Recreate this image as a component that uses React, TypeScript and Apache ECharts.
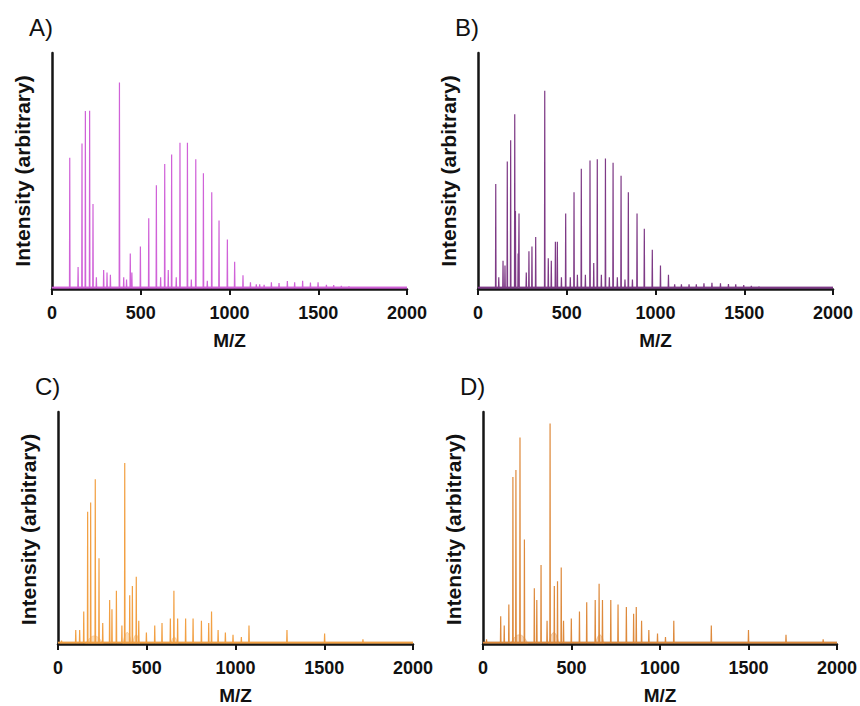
import React, { useEffect, useRef } from "react";
import * as echarts from "echarts";

// ---- Data: [m/z, relative intensity] ----
const PANEL_LABELS = ["A)", "B)", "C)", "D)"];
const X_TITLE = "M/Z";
const Y_TITLE = "Intensity (arbitrary)";

const peaksA: [number, number][] = [
  [100, 0.556], [147, 0.093], [169, 0.617], [188, 0.754], [212, 0.755], [231, 0.36], [250, 0.05],
  [291, 0.08], [310, 0.07], [329, 0.06], [380, 0.875], [404, 0.05], [420, 0.04], [441, 0.15], [450, 0.07],
  [498, 0.18], [545, 0.3], [588, 0.44], [612, 0.05], [635, 0.53], [655, 0.08], [674, 0.57], [700, 0.05],
  [721, 0.62], [763, 0.62], [785, 0.04], [810, 0.55], [853, 0.49], [875, 0.035], [900, 0.41], [941, 0.29],
  [988, 0.21], [1029, 0.115], [1076, 0.058], [1118, 0.028], [1151, 0.02], [1170, 0.02], [1195, 0.018],
  [1236, 0.028], [1279, 0.025], [1326, 0.034], [1367, 0.028], [1412, 0.035], [1456, 0.027], [1499, 0.028],
  [1546, 0.018], [1587, 0.017], [1630, 0.013], [1673, 0.011], [1720, 0.008],
];

const peaksB: [number, number][] = [
  [100, 0.445], [117, 0.05], [141, 0.12], [152, 0.1], [165, 0.54], [184, 0.63], [207, 0.74], [211, 0.33],
  [226, 0.15], [231, 0.32], [272, 0.07], [287, 0.16], [304, 0.18], [325, 0.22], [376, 0.84], [396, 0.13],
  [413, 0.12], [436, 0.2], [447, 0.2], [470, 0.05], [494, 0.32], [520, 0.05], [541, 0.41], [560, 0.06],
  [582, 0.51], [605, 0.06], [631, 0.545], [652, 0.11], [672, 0.55], [695, 0.06], [718, 0.553], [740, 0.05],
  [761, 0.535], [785, 0.05], [806, 0.48], [828, 0.04], [847, 0.41], [870, 0.04], [896, 0.32], [937, 0.255],
  [982, 0.166], [1028, 0.1], [1073, 0.06], [1108, 0.02], [1146, 0.02], [1189, 0.02], [1230, 0.02],
  [1273, 0.024], [1318, 0.026], [1366, 0.024], [1411, 0.021], [1452, 0.02], [1497, 0.017], [1540, 0.013],
  [1583, 0.01],
];

const peaksC: [number, number][] = [
  [20, 0.015], [100, 0.06], [122, 0.06], [145, 0.14], [167, 0.57], [184, 0.61], [210, 0.71], [231, 0.37],
  [252, 0.09], [291, 0.19], [304, 0.15], [329, 0.23], [360, 0.08], [376, 0.78], [404, 0.21], [419, 0.25],
  [441, 0.29], [455, 0.1], [498, 0.05], [545, 0.08], [586, 0.09], [633, 0.11], [653, 0.23], [674, 0.11],
  [719, 0.11], [761, 0.11], [808, 0.1], [849, 0.09], [865, 0.14], [902, 0.06], [943, 0.05], [986, 0.04],
  [1033, 0.03], [1076, 0.08], [1290, 0.06], [1502, 0.045], [1718, 0.02],
];

const peaksD: [number, number][] = [
  [20, 0.02], [100, 0.12], [120, 0.08], [146, 0.17], [169, 0.72], [186, 0.75], [209, 0.89], [234, 0.45],
  [290, 0.24], [304, 0.19], [328, 0.34], [362, 0.1], [379, 0.95], [403, 0.25], [421, 0.27], [442, 0.33],
  [455, 0.1], [499, 0.11], [545, 0.14], [586, 0.18], [634, 0.19], [656, 0.26], [675, 0.19], [722, 0.19],
  [763, 0.17], [810, 0.16], [851, 0.13], [866, 0.16], [896, 0.1], [937, 0.06], [986, 0.045], [1031, 0.03],
  [1078, 0.1], [1290, 0.08], [1500, 0.06], [1712, 0.04], [1922, 0.02],
];

// broad humps [m/z centre, height, half width]
const humpsC: [number, number, number][] = [[205, 0.035, 50], [390, 0.05, 25], [440, 0.04, 20], [655, 0.03, 20]];
const humpsD: [number, number, number][] = [[205, 0.04, 50], [400, 0.05, 30], [660, 0.04, 25]];

const COLORS = ["#d062d8", "#7e3a86", "#f2a043", "#de8a3c"];
const BASE_COLORS = ["#c030c8", "#6a1f78", "#e0902f", "#b8742e"];

const PEAK_HALF_WIDTH = 1.6;
const BASELINE = 0.006;

function stickLine(peaks: [number, number][]): [number, number][] {
  const pts: [number, number][] = [[0, BASELINE]];
  const sorted = [...peaks].sort((a, b) => a[0] - b[0]);
  for (const [mz, h] of sorted) {
    pts.push([mz - PEAK_HALF_WIDTH, BASELINE], [mz, h], [mz + PEAK_HALF_WIDTH, BASELINE]);
  }
  pts.push([2000, BASELINE]);
  return pts;
}

function humpLine(humps: [number, number, number][]): (number[] | string)[] {
  const pts: (number[] | string)[] = [];
  for (const [mz, h, w] of humps) {
    pts.push([mz - w, 0], [mz - w * 0.5, h * 0.75], [mz, h], [mz + w * 0.5, h * 0.75], [mz + w, 0], "-");
  }
  return pts;
}

const GRIDS = [
  { left: 52, top: 53, width: 355, height: 236 },
  { left: 478, top: 53, width: 355, height: 236 },
  { left: 58, top: 412, width: 355, height: 235 },
  { left: 483, top: 412, width: 356, height: 235 },
];

export default function App() {
  const ref = useRef<HTMLDivElement>(null);
  useEffect(() => {
    document.body.style.margin = "0";
    const chart = echarts.init(ref.current!, null, { renderer: "svg" });
    const font = "'Liberation Sans', Arial, Helvetica, sans-serif";
    const spectra = [peaksA, peaksB, peaksC, peaksD];
    const humps = [null, null, humpsC, humpsD];

    const series: any[] = [];
    spectra.forEach((p, i) => {
      if (humps[i]) {
        series.push({
          type: "line",
          xAxisIndex: i,
          yAxisIndex: i,
          data: humpLine(humps[i] as [number, number, number][]),
          symbol: "none",
          silent: true,
          smooth: 0.4,
          lineStyle: { color: COLORS[i], width: 0.6, opacity: 0.6 },
          areaStyle: { color: COLORS[i], opacity: 0.35 },
          z: 2,
        });
      }
      series.push({
        type: "line",
        xAxisIndex: i,
        yAxisIndex: i,
        data: stickLine(p),
        symbol: "none",
        silent: true,
        lineStyle: { color: COLORS[i], width: 1.2 },
        z: 3,
      });
      series.push({
        type: "line",
        xAxisIndex: i,
        yAxisIndex: i,
        data: [[0, BASELINE], [2000, BASELINE]],
        symbol: "none",
        silent: true,
        lineStyle: { color: BASE_COLORS[i], width: 2.2, opacity: 0.7 },
        z: 1,
      });
    });

    const graphics: any[] = [];
    GRIDS.forEach((g, i) => {
      graphics.push({
        type: "text",
        left: g.left - 23,
        top: g.top - 38,
        style: { text: PANEL_LABELS[i], font: `24px ${font}`, fill: "#111" },
      });
      graphics.push({
        type: "text",
        x: g.left - 30,
        y: g.top + g.height / 2,
        rotation: Math.PI / 2,
        style: {
          text: Y_TITLE,
          font: `bold 21px ${font}`,
          fill: "#111",
          align: "center",
          verticalAlign: "middle",
        },
      });
    });

    chart.setOption({
      animation: false,
      backgroundColor: "#ffffff",
      grid: GRIDS.map((g) => ({ ...g, containLabel: false })),
      xAxis: GRIDS.map((_, i) => ({
        type: "value",
        gridIndex: i,
        min: 0,
        max: 2000,
        interval: 500,
        name: X_TITLE,
        nameLocation: "middle",
        nameGap: 42,
        nameTextStyle: { fontFamily: font, fontWeight: "bold", fontSize: 19, color: "#111" },
        axisLine: { show: true, lineStyle: { color: "#151515", width: 2.5 } },
        axisTick: { show: true, length: 6, lineStyle: { color: "#151515", width: 2 } },
        axisLabel: {
          fontFamily: font,
          fontWeight: "bold",
          fontSize: 18,
          color: "#111",
          margin: 15,
          formatter: (v: number) => String(v),
        },
        splitLine: { show: false },
      })),
      yAxis: GRIDS.map((_, i) => ({
        type: "value",
        gridIndex: i,
        min: 0,
        max: 1,
        axisLine: { show: true, lineStyle: { color: "#151515", width: 2.5 } },
        axisTick: { show: false },
        axisLabel: { show: false },
        splitLine: { show: false },
      })),
      series,
      graphic: graphics,
    });
    return () => chart.dispose();
  }, []);
  return <div ref={ref} style={{ width: 860, height: 706 }} />;
}
